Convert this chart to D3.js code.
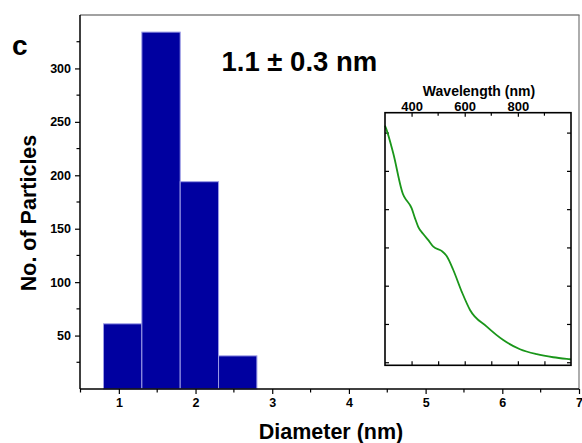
<!DOCTYPE html>
<html><head><meta charset="utf-8">
<script src="https://cdn.jsdelivr.net/npm/d3@7"></script>
<style>
html,body{margin:0;padding:0;background:#fff;}
svg{display:block;}
text{font-family:"Liberation Sans",Arial,sans-serif;font-weight:bold;fill:#000;}
</style></head>
<body>
<script>
// Histogram data
const binStarts = [0.8, 1.3, 1.8, 2.3];
const binWidth = 0.5;
const counts = [61, 334, 194, 31];
const xTicks = [1, 2, 3, 4, 5, 6, 7];
const yTicks = [50, 100, 150, 200, 250, 300];
// Inset absorption spectrum
const wavelength = [300, 304, 331, 369, 372.6, 400.5, 413, 425, 444, 463, 482, 513, 532, 557, 589, 620, 683, 745, 808, 871, 933, 996, 1000];
const absorbance = [0.618, 0.611, 0.546, 0.437, 0.432, 0.402, 0.376, 0.354, 0.335, 0.319, 0.302, 0.291, 0.2775, 0.241, 0.184, 0.1366, 0.093, 0.058, 0.034, 0.021, 0.013, 0.0078, 0.0075];
const insetXTicks = [400, 600, 800];
const insetYTicks = [0, 0.1, 0.2, 0.3, 0.4, 0.5, 0.6];
const panelLabel = "c";
const meanLabel = "1.1 ± 0.3 nm";

const W = 582, H = 443;
const svg = d3.select("body").append("svg").attr("width", W).attr("height", H);

const x = d3.scaleLinear().domain([0.5, 7]).range([80.5, 579]);
const y = d3.scaleLinear().domain([0, 350]).range([389, 15]);

// frame top & right
svg.append("line").attr("x1", 80).attr("x2", 579.5).attr("y1", 15).attr("y2", 15).attr("stroke", "#444").attr("stroke-width", 1.2);
svg.append("line").attr("x1", 579).attr("x2", 579).attr("y1", 15).attr("y2", 389).attr("stroke", "#777").attr("stroke-width", 1.2);

// bars
svg.append("g").selectAll("rect").data(counts).join("rect")
  .attr("x", (d, i) => x(binStarts[i]))
  .attr("width", (d, i) => x(binStarts[i] + binWidth) - x(binStarts[i]))
  .attr("y", d => y(d))
  .attr("height", d => y(0) - y(d))
  .attr("fill", "#0000a0")
  .attr("stroke", "#9c9ce6")
  .attr("stroke-width", 1);

// x axis
const xAxis = d3.axisBottom(x).tickValues(xTicks).tickSize(5).tickPadding(4).tickFormat(d3.format("d"));
const gx = svg.append("g").attr("transform", "translate(0,389)").call(xAxis);
gx.select(".domain").attr("stroke", "#000").attr("stroke-width", 1.5).attr("d", "M80,0H579");
gx.selectAll("text").attr("font-size", 12.5).attr("font-family", "Liberation Sans, Arial, sans-serif").attr("font-weight", "bold");
gx.selectAll("line").attr("stroke-width", 1.2);
const xMinor = [0.5, 1.5, 2.5, 3.5, 4.5, 5.5, 6.5];
svg.append("g").selectAll("line").data(xMinor).join("line")
  .attr("x1", d => x(d)).attr("x2", d => x(d)).attr("y1", 389).attr("y2", 392.5)
  .attr("stroke", "#000").attr("stroke-width", 1.2);

// y axis
const yAxis = d3.axisLeft(y).tickValues(yTicks).tickSize(5).tickPadding(4);
const gy = svg.append("g").attr("transform", "translate(80,0)").call(yAxis);
gy.select(".domain").attr("stroke", "#000").attr("stroke-width", 1.5).attr("d", "M0,15V389");
gy.selectAll("text").attr("font-size", 12.5).attr("font-family", "Liberation Sans, Arial, sans-serif").attr("font-weight", "bold");
gy.selectAll("line").attr("stroke-width", 1.2);
const yMinor = [25, 75, 125, 175, 225, 275, 325];
svg.append("g").selectAll("line").data(yMinor).join("line")
  .attr("x1", 80).attr("x2", 76.5).attr("y1", d => y(d)).attr("y2", d => y(d))
  .attr("stroke", "#000").attr("stroke-width", 1.2);

// axis titles
svg.append("text").attr("x", 331).attr("y", 438.5).attr("text-anchor", "middle").attr("font-size", 21.5).text("Diameter (nm)");
svg.append("text").attr("transform", "translate(36,213) rotate(-90)").attr("text-anchor", "middle").attr("font-size", 21.5).text("No. of Particles");
svg.append("text").attr("x", 12).attr("y", 55).attr("font-size", 28).text(panelLabel);
svg.append("text").attr("x", 221.5).attr("y", 70.7).attr("font-size", 27.5).text(meanLabel);

// ---- inset ----
const ix = d3.scaleLinear().domain([300, 1000]).range([385, 571]);
const iy = d3.scaleLinear().domain([-0.008, 0.652]).range([365.3, 112.7]);
const inset = svg.append("g");
inset.append("rect").attr("x", 385).attr("y", 112.7).attr("width", 186).attr("height", 252.6)
  .attr("fill", "#fff").attr("stroke", "none");

// top axis with labels
const itop = d3.axisTop(ix).tickValues(insetXTicks).tickSize(-4).tickPadding(6);
const gt = inset.append("g").attr("transform", "translate(0,112.7)").call(itop);
gt.select(".domain").remove();
gt.selectAll("line").attr("stroke-width", 1.2);
gt.selectAll("text").attr("font-size", 13).attr("font-family", "Liberation Sans, Arial, sans-serif").attr("font-weight", "bold").attr("dy", 0).attr("y", -1.5);
inset.append("g").selectAll("line").data([500, 700, 900]).join("line")
  .attr("x1", d => ix(d)).attr("x2", d => ix(d)).attr("y1", 112.7).attr("y2", 115.7)
  .attr("stroke", "#000").attr("stroke-width", 1.2);
// bottom ticks
const ibot = d3.axisBottom(ix).tickValues(d3.range(400, 1000, 100)).tickSize(-4).tickFormat("");
const gb = inset.append("g").attr("transform", "translate(0,365.3)").call(ibot);
gb.select(".domain").remove();
gb.selectAll("line").attr("stroke-width", 1.2);
// left/right ticks
const il = d3.axisLeft(iy).tickValues(insetYTicks).tickSize(-4).tickFormat("");
const gl = inset.append("g").attr("transform", "translate(385,0)").call(il);
gl.select(".domain").remove();
gl.selectAll("line").attr("stroke-width", 1.2);
const ir = d3.axisRight(iy).tickValues(insetYTicks).tickSize(-4).tickFormat("");
const gr = inset.append("g").attr("transform", "translate(571,0)").call(ir);
gr.select(".domain").remove();
gr.selectAll("line").attr("stroke-width", 1.2);

// curve
const line = d3.line().x((d, i) => ix(wavelength[i])).y(d => iy(d)).curve(d3.curveMonotoneX);
inset.append("path").datum(absorbance).attr("d", line)
  .attr("fill", "none").attr("stroke", "#1a961a").attr("stroke-width", 1.8);

inset.append("rect").attr("x", 385).attr("y", 112.7).attr("width", 186).attr("height", 252.6)
  .attr("fill", "none").attr("stroke", "#000").attr("stroke-width", 1.6);

inset.append("text").attr("x", 479).attr("y", 95.5).attr("text-anchor", "middle").attr("font-size", 14).text("Wavelength (nm)");
</script>
</body></html>
